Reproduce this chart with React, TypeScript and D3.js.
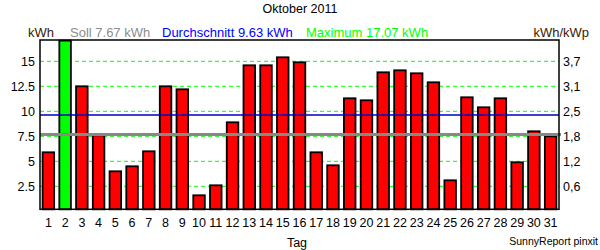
import React from "react";
import * as d3 from "d3";

const days = Array.from({ length: 31 }, (_, i) => String(i + 1));
const energy = [5.9, 17.07, 12.5, 7.6, 4.0, 4.5, 6.0, 12.5, 12.2, 1.6, 2.6, 8.9, 14.6, 14.6, 15.4, 14.9, 5.9, 4.6, 11.3, 11.1, 13.9, 14.1, 13.8, 12.9, 3.1, 11.4, 10.4, 11.3, 4.9, 8.0, 7.5];
const leftTicks = [2.5, 5, 7.5, 10, 12.5, 15];
const rightTickLabels = ["0,6", "1,2", "1,8", "2,5", "3,1", "3,7"];
const soll = 7.67;
const avg = 9.63;
const maxVal = 17.07;

export default function App() {
  const W = 600, H = 250;
  const L = 40, R = 559, T = 40, B = 209.3;
  const x = d3.scaleBand<string>().domain(days).range([L, R]).paddingInner(0.31).paddingOuter(0.155);
  const y = d3.scaleLinear().domain([0.2, 17.13]).range([B, T]);
  const font = "'Liberation Sans', Arial, sans-serif";
  const maxIdx = energy.indexOf(d3.max(energy) as number);
  return (
    <svg width={W} height={H} style={{ position: "absolute", left: 0, top: 0, fontFamily: font }}>
      <rect x={0} y={0} width={W} height={H} fill="#fff" />
      <text x={300} y={13} fontSize={12.5} textAnchor="middle" fill="#000">Oktober 2011</text>
      <text x={28} y={36.5} fontSize={13} fill="#3a1a00">kWh</text>
      <text x={70} y={36.5} fontSize={13} fill="#8c8c8c">Soll {soll.toFixed(2)} kWh</text>
      <text x={162} y={36.5} fontSize={13} fill="#0000ff">Durchschnitt {avg.toFixed(2)} kWh</text>
      <text x={306} y={36.5} fontSize={13} fill="#00ff00">Maximum {maxVal.toFixed(2)} kWh</text>
      <text x={589} y={36.5} fontSize={13} textAnchor="end" fill="#3a1a00">kWh/kWp</text>
      {leftTicks.map((t, i) => (
        <g key={t}>
          <line x1={L} x2={R} y1={y(t)} y2={y(t)} stroke="#00ff00" strokeWidth={1} strokeDasharray="4,3" />
          <text x={35} y={y(t) + 4.5} fontSize={12.5} textAnchor="end" fill="#000">{String(t)}</text>
          <text x={563} y={y(t) + 4.5} fontSize={12.5} fill="#000">{rightTickLabels[i]}</text>
        </g>
      ))}
      {energy.map((v, i) => (
        <rect key={i} x={x(days[i])} y={y(v)} width={x.bandwidth()} height={B - y(v)}
          fill={i === maxIdx ? "#00ff00" : "#ff0000"} stroke="#000" strokeWidth={1.8} />
      ))}
      <line x1={L} x2={R} y1={y(avg)} y2={y(avg)} stroke="#0000c0" strokeWidth={1.5} />
      <line x1={L} x2={R + 2} y1={y(soll)} y2={y(soll)} stroke="#888" strokeWidth={3} />
      <rect x={L} y={T} width={R - L} height={B - T} fill="none" stroke="#000" strokeWidth={1.5} />
      {days.map((d) => (
        <text key={d} x={(x(d) as number) + x.bandwidth() / 2} y={227} fontSize={12.5} textAnchor="middle" fill="#000">{d}</text>
      ))}
      <text x={297} y={246.5} fontSize={12.5} textAnchor="middle" fill="#000">Tag</text>
      <text x={598} y={245} fontSize={10.5} textAnchor="end" fill="#000">SunnyReport pinxit</text>
    </svg>
  );
}
